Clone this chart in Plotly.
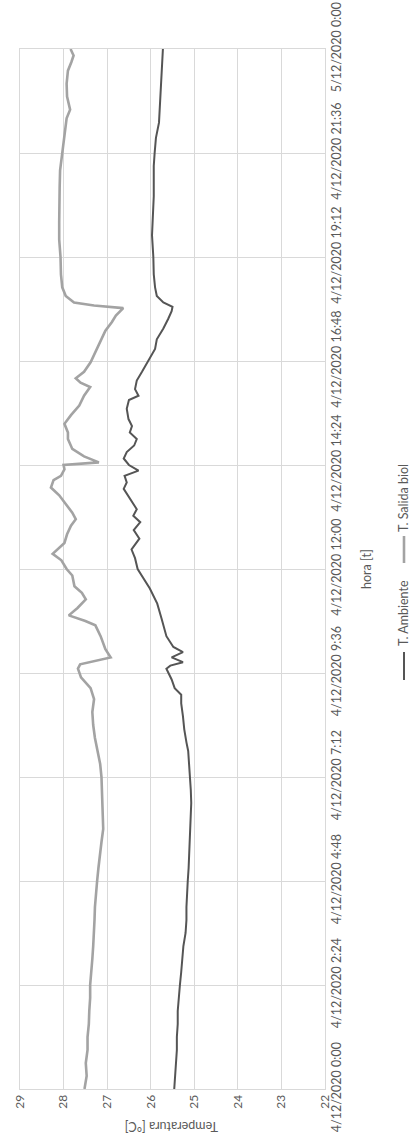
import plotly.graph_objects as go

# ---- data (hours since 4/12/2020 0:00, temperature in °C) ----
HOURS_SALIDA = [0.0, 0.3, 0.6, 0.9, 1.2, 1.5, 1.8, 2.1, 2.4, 2.7, 3.0, 3.3, 3.6, 3.9, 4.2, 4.5,
                4.8, 5.1, 5.4, 5.7, 6.0, 6.3, 6.6, 6.9, 7.2, 7.5, 7.8, 8.1, 8.4, 8.7, 9.0, 9.25,
                9.5, 9.7, 9.8, 9.96, 10.15, 10.45, 10.7, 10.8, 10.93, 11.1, 11.3, 11.45, 11.6,
                11.85, 12.0, 12.2, 12.35, 12.5, 12.6, 12.8, 13.0, 13.15, 13.3, 13.5, 13.7, 13.88,
                14.05, 14.15, 14.3, 14.4, 14.46, 14.6, 14.77, 15.0, 15.15, 15.35, 15.55, 15.77,
                16.0, 16.2, 16.3, 16.4, 16.55, 16.77, 17.0, 17.25, 17.5, 17.7, 17.85, 18.02,
                18.08, 18.15, 18.3, 18.5, 18.8, 19.2, 19.6, 20.0, 20.4, 20.8, 21.2, 21.6, 22.0,
                22.4, 22.6, 22.9, 23.2, 23.5, 23.7, 23.85, 24.0]
T_SALIDA = [27.52, 27.47, 27.49, 27.45, 27.45, 27.42, 27.41, 27.39, 27.39, 27.36, 27.34, 27.32,
            27.30, 27.29, 27.28, 27.26, 27.23, 27.20, 27.17, 27.13, 27.09, 27.10, 27.11, 27.11,
            27.13, 27.16, 27.22, 27.28, 27.32, 27.34, 27.30, 27.38, 27.60, 27.67, 27.62, 26.92,
            27.04, 27.15, 27.27, 27.50, 27.88, 27.68, 27.49, 27.58, 27.75, 27.80, 27.93, 28.05,
            28.25, 28.10, 27.98, 27.92, 27.83, 27.72, 27.80, 27.95, 28.10, 28.29, 28.23, 28.06,
            27.98, 28.00, 27.19, 27.53, 27.80, 27.90, 27.90, 27.98, 27.83, 27.64, 27.53, 27.39,
            27.61, 27.72, 27.53, 27.38, 27.27, 27.15, 27.04, 26.89, 26.80, 26.63, 27.30, 27.76,
            27.95, 28.03, 28.06, 28.07, 28.10, 28.10, 28.10, 28.09, 28.08, 28.03, 27.99, 27.93,
            27.85, 27.92, 27.93, 27.90, 27.82, 27.77, 27.84]

HOURS_AMB = [0.0, 0.3, 0.6, 0.9, 1.2, 1.5, 1.8, 2.1, 2.4, 2.7, 3.0, 3.3, 3.6, 3.9, 4.2, 4.5,
             4.8, 5.1, 5.4, 5.7, 6.0, 6.3, 6.6, 6.9, 7.2, 7.5, 7.8, 8.0, 8.3, 8.6, 8.9, 9.1,
             9.25, 9.45, 9.7, 9.77, 9.85, 9.96, 10.08, 10.2, 10.45, 10.85, 11.2, 11.55, 11.85,
             12.0, 12.25, 12.45, 12.7, 12.9, 13.08, 13.23, 13.38, 13.6, 13.85, 14.0, 14.15,
             14.27, 14.4, 14.55, 14.7, 14.85, 15.0, 15.15, 15.3, 15.46, 15.7, 15.9, 16.0,
             16.15, 16.35, 16.55, 16.8, 17.08, 17.3, 17.55, 17.77, 17.95, 18.05, 18.15, 18.3,
             18.5, 18.8, 19.2, 19.7, 20.2, 20.6, 21.0, 21.3, 21.6, 21.95, 22.3, 22.7, 23.3,
             23.6, 23.9, 24.0]
T_AMB = [25.46, 25.44, 25.42, 25.40, 25.40, 25.38, 25.38, 25.36, 25.33, 25.30, 25.27, 25.25,
         25.20, 25.18, 25.18, 25.17, 25.15, 25.13, 25.12, 25.10, 25.09, 25.09, 25.07, 25.08,
         25.10, 25.11, 25.14, 25.18, 25.23, 25.26, 25.30, 25.30, 25.45, 25.52, 25.64, 25.55,
         25.26, 25.52, 25.26, 25.48, 25.64, 25.75, 25.85, 26.02, 26.22, 26.30, 26.36, 26.44,
         26.26, 26.39, 26.24, 26.40, 26.32, 26.47, 26.62, 26.55, 26.60, 26.28, 26.50, 26.62,
         26.55, 26.38, 26.32, 26.48, 26.43, 26.51, 26.55, 26.50, 26.28, 26.36, 26.32, 26.20,
         26.05, 25.90, 25.86, 25.71, 25.60, 25.52, 25.50, 25.71, 25.86, 25.90, 25.93, 25.94,
         25.97, 25.94, 25.93, 25.93, 25.93, 25.91, 25.88, 25.81, 25.79, 25.77, 25.75, 25.73,
         25.72]

TEMP_TICKS = [29, 28, 27, 26, 25, 24, 23, 22]
TIME_TICK_HOURS = [0, 2.4, 4.8, 7.2, 9.6, 12.0, 14.4, 16.8, 19.2, 21.6, 24.0]
TIME_TICK_LABELS = ["4/12/2020 0:00", "4/12/2020 2:24", "4/12/2020 4:48", "4/12/2020 7:12",
                    "4/12/2020 9:36", "4/12/2020 12:00", "4/12/2020 14:24", "4/12/2020 16:48",
                    "4/12/2020 19:12", "4/12/2020 21:36", "5/12/2020 0:00"]
SERIES_NAMES = ["T. Ambiente", "T. Salida biol"]

# ---- layout constants (pixels) ----
W, H = 411, 1142
L, R, T, B = 20, 325, 49, 1089
FONT = "Lato"
TXT = "#595959"
GRID = "#D9D9D9"
C_AMB = "#555555"
C_SAL = "#A3A3A3"


def px(xw):
    return (xw - L) / (R - L)


def py(yw):
    return (B - yw) / (B - T)


fig = go.Figure()
fig.add_trace(go.Scatter(x=T_SALIDA, y=HOURS_SALIDA, mode="lines", name=SERIES_NAMES[1],
                         line=dict(color=C_SAL, width=2.6)))
fig.add_trace(go.Scatter(x=T_AMB, y=HOURS_AMB, mode="lines", name=SERIES_NAMES[0],
                         line=dict(color=C_AMB, width=2.0)))

fig.update_layout(
    width=W, height=H,
    margin=dict(l=L, r=W - R, t=T, b=H - B, pad=0, autoexpand=False),
    paper_bgcolor="white", plot_bgcolor="white",
    showlegend=False,
    font=dict(family=FONT, size=12, color=TXT),
    xaxis=dict(range=[29, 22], tickvals=TEMP_TICKS, tickangle=-90, showgrid=True,
               gridcolor=GRID, gridwidth=1, zeroline=False, showline=True, mirror=True,
               linecolor=GRID, linewidth=1, ticks="", automargin=False,
               ticklabeloverflow="allow", tickfont=dict(size=12, color=TXT)),
    yaxis=dict(range=[0, 24], tickvals=TIME_TICK_HOURS, ticktext=TIME_TICK_LABELS,
               side="right", tickangle=-90, showgrid=True, gridcolor=GRID, gridwidth=1,
               zeroline=False, showline=True, mirror=True, linecolor=GRID, linewidth=1,
               ticks="", automargin=False, ticklabeloverflow="allow",
               tickfont=dict(size=12.5, color=TXT)),
)

annotations = [
    dict(text="Temperatura [°C]", x=px(172), y=py(1127), textangle=180),
    dict(text="hora [t]", x=px(366), y=py(569), textangle=-90),
    dict(text=SERIES_NAMES[1], x=px(403), y=py(498), textangle=-90),
    dict(text=SERIES_NAMES[0], x=px(403), y=py(613), textangle=-90),
]
for a in annotations:
    fig.add_annotation(xref="paper", yref="paper", showarrow=False,
                       xanchor="center", yanchor="middle",
                       font=dict(family=FONT, size=12.5, color=TXT), **a)

fig.add_shape(type="line", xref="paper", yref="paper", x0=px(404), x1=px(404),
              y0=py(536), y1=py(563), line=dict(color=C_SAL, width=2.6))
fig.add_shape(type="line", xref="paper", yref="paper", x0=px(404), x1=px(404),
              y0=py(652), y1=py(680), line=dict(color=C_AMB, width=2.0))

# the page body keeps no default 8px margin, so the 411x1142 figure fills the window exactly
fig.write_html("out.html",
               config={"displayModeBar": False, "staticPlot": True},
               post_script="document.body.style.margin='0';document.body.style.overflow='hidden';")
